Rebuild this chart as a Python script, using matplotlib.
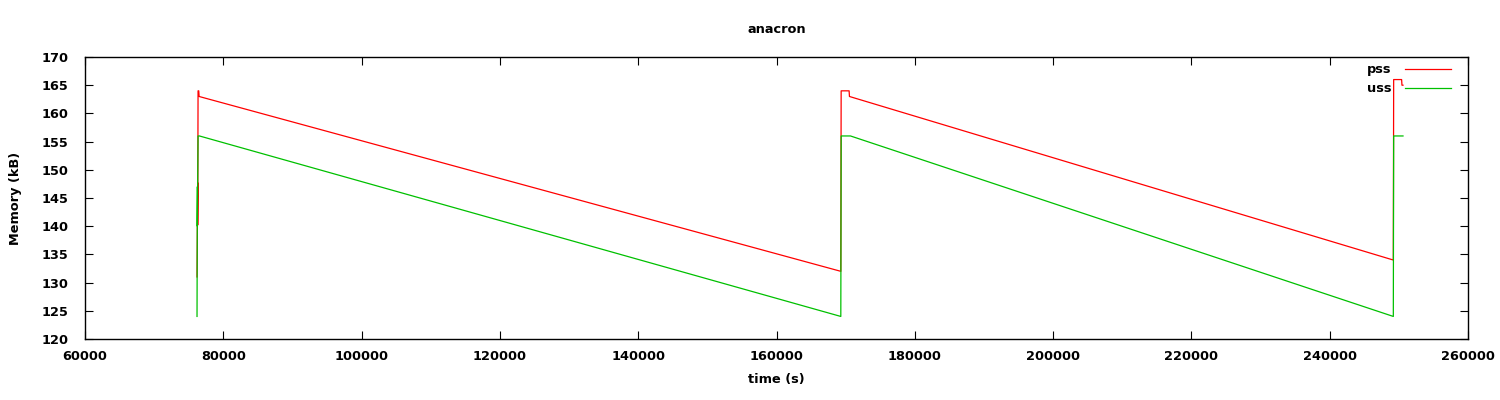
import matplotlib
matplotlib.use("Agg")
import matplotlib.pyplot as plt

# samples (time in s, memory in kB)
pss_t = [76200, 76300, 76300, 76350, 76450, 76500, 169300, 169350, 170500, 170550,
         249200, 249250, 250400, 250450, 250600]
pss_v = [131, 147.7, 140.2, 164, 164, 163, 132, 164, 164, 163,
         134, 166, 166, 165, 165]

uss_t = [76200, 76250, 76250, 76350, 76550, 169300, 169350, 170700,
         249200, 249250, 250600]
uss_v = [124, 147, 140, 156, 156, 124, 156, 156,
         124, 156, 156]

fs = 9.3

fig = plt.figure(figsize=(15, 4), dpi=100)
ax = fig.add_axes([85 / 1500, 1 - 339 / 400, 1383 / 1500, 282 / 400])

ax.plot(pss_t, pss_v, color="#ff0000", lw=0.9, label="pss")
ax.plot(uss_t, uss_v, color="#00c000", lw=0.9, label="uss")

ax.set_xlim(60000, 260000)
ax.set_ylim(120, 170)
ax.set_xticks(range(60000, 260001, 20000))
ax.set_yticks(range(120, 171, 5))
ax.tick_params(direction="in", length=6, top=True, right=True, labelsize=fs)
ax.tick_params(axis="x", pad=8)
ax.tick_params(axis="y", pad=12)
for lab in ax.get_xticklabels() + ax.get_yticklabels():
    lab.set_fontweight("bold")
for s in ax.spines.values():
    s.set_linewidth(1.0)

ax.set_title("anacron", fontsize=fs, pad=17, fontweight="bold")
ax.set_xlabel("time (s)", fontsize=fs, labelpad=7, fontweight="bold")
ax.set_ylabel("Memory (kB)", fontsize=fs, labelpad=14, fontweight="bold")

leg = ax.legend(loc="upper right", frameon=False, markerfirst=False,
                prop={"size": fs, "weight": "bold"},
                handlelength=3.5, handletextpad=1.1, labelspacing=0.45,
                borderaxespad=0.3, bbox_to_anchor=(0.994, 1.01))

fig.savefig("out.png", dpi=100)
